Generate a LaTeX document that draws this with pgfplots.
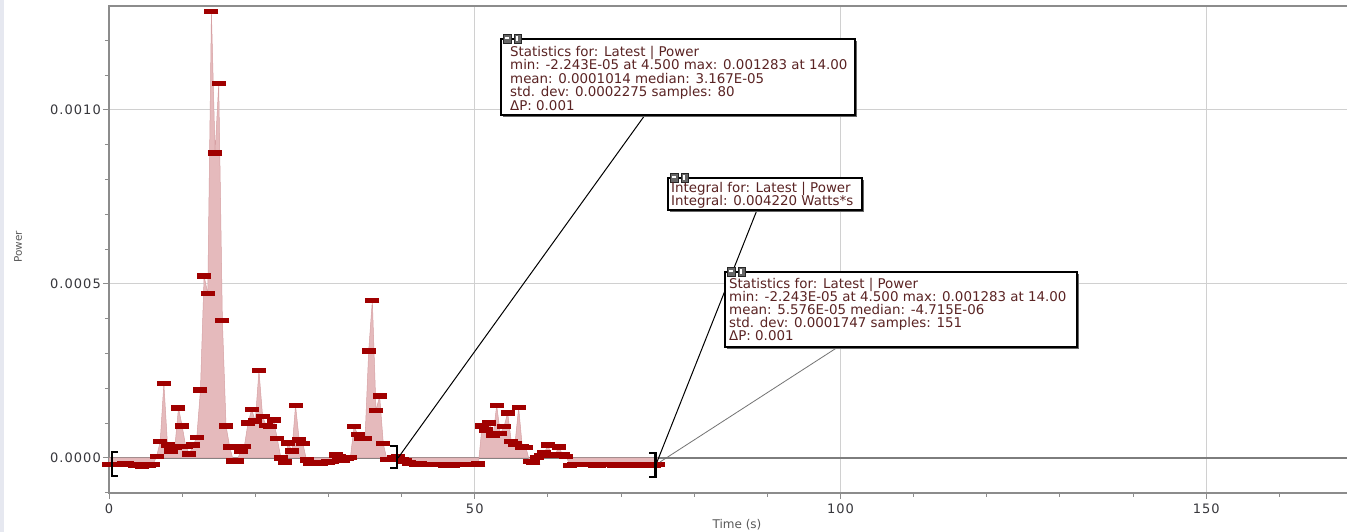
\documentclass[border=0pt]{standalone}
\usepackage{fontspec}
\setmainfont{DejaVu Sans}
\newfontfamily\tickfont[LetterSpace=8]{DejaVu Sans}
\usepackage{pgfplots}
\usepackage{pgfplotstable}
\pgfplotsset{compat=1.18}
\definecolor{fillpink}{RGB}{229,186,188}
\definecolor{edgepink}{RGB}{214,160,163}
\definecolor{mkred}{RGB}{160,0,0}
\definecolor{gridgray}{RGB}{208,208,208}
\definecolor{axisgray}{RGB}{140,140,140}
\definecolor{zerogray}{RGB}{125,125,125}
\definecolor{annotxt}{RGB}{90,35,35}
\definecolor{ticktxt}{RGB}{55,55,60}
\definecolor{stripcol}{RGB}{230,232,240}

\pgfplotstableread{
t p
0 -0.000018
0.5 -0.000019
1 -0.000019
1.5 -0.000018
2 -0.000017
2.5 -0.000017
3 -0.000018
3.5 -0.000020
4 -0.000021
4.5 -0.00002243
5 -0.000021
5.5 -0.000020
6 -0.000019
6.5 0.000004
7 0.000047
7.5 0.000214
8 0.000037
8.5 0.000020
9 0.00003134
9.5 0.000144
10 0.000092
10.5 0.0000325
11 0.000012
11.5 0.000037
12 0.000059
12.5 0.000195
13 0.000523
13.5 0.000473
14 0.001283
14.5 0.000877
15 0.001076
15.5 0.0003956
16 0.000092
16.5 0.000032
17 -0.000008
17.5 -0.000008
18 0.000020
18.5 0.000033
19 0.000100
19.5 0.000139
20 0.000107
20.5 0.000251
21 0.000119
21.5 0.000093
22 0.000090
22.5 0.000109
23 0.000056
23.5 0.000000
24 -0.000012
24.5 0.000043
25 0.000020
25.5 0.000151
26 0.000052
26.5 0.000042
27 -0.000006
27.5 -0.000015
28 -0.000016
28.5 -0.000014
29 -0.000015
29.5 -0.000013
30 -0.000012
30.5 -0.000010
31 0.000008
31.5 0.000005
32 -0.000006
32.5 0.000000
33 0.000002
33.5 0.000090
34 0.000068
34.5 0.000056
35 0.000056
35.5 0.0003077
36 0.000453
36.5 0.000137
37 0.000178
37.5 0.000041
38 -0.000004715
38.5 -0.000005
39 0.000000
39.5 0.000003
40 -0.000005
40.5 -0.000008
41 -0.000014
41.5 -0.000016
42 -0.000017
42.5 -0.000017
43 -0.000018
43.5 -0.000018
44 -0.000019
44.5 -0.000019
45 -0.000018
45.5 -0.000019
46 -0.000020
46.5 -0.000020
47 -0.000020
47.5 -0.000019
48 -0.000018
48.5 -0.000018
49 -0.000019
49.5 -0.000019
50 -0.000018
50.5 -0.000017
51 0.000092
51.5 0.000080
52 0.000100
52.5 0.000065
53 0.000151
53.5 0.000070
54 0.000090
54.5 0.000130
55 0.000047
55.5 0.000040
56 0.000145
56.5 0.000032
57 0.000030
57.5 -0.000010
58 -0.000012
58.5 0.000002
59 0.000007
59.5 0.000014
60 0.000037
60.5 0.000007
61 0.000010
61.5 0.000032
62 0.000009
62.5 0.000005
63 -0.000021
63.5 -0.000019
64 -0.000018
64.5 -0.000018
65 -0.000019
65.5 -0.000019
66 -0.000019
66.5 -0.000020
67 -0.000020
67.5 -0.000019
68 -0.000019
68.5 -0.000019
69 -0.000020
69.5 -0.000020
70 -0.000020
70.5 -0.000020
71 -0.000020
71.5 -0.000020
72 -0.000020
72.5 -0.000020
73 -0.000020
73.5 -0.000020
74 -0.000020
74.5 -0.000020
75 -0.000019
}\powerdata

\newcommand\annofont{\fontsize{13.4}{13.5}\selectfont}
\newcommand\annobox[4]{%
  \fill[black!60] (#1+1.6,#2+1.6) rectangle (#3+1.6,#4+1.6);
  \filldraw[fill=white, draw=black, line width=1.6pt] (#1,#2) rectangle (#3,#4);
  \filldraw[fill=black!60, draw=black!85, line width=0.5pt] (#1+2,#2-5) rectangle (#1+10,#2+4);
  \fill[white] (#1+4,#2-2) rectangle (#1+8,#2+0.5);
  \filldraw[fill=black!60, draw=black!85, line width=0.5pt] (#1+13,#2-5) rectangle (#1+20,#2+4);
  \fill[white] (#1+15,#2-3) rectangle (#1+17,#2+2);
}

\begin{document}
\begin{tikzpicture}
\fill[white] (0,0) rectangle (1347pt,532pt);
\fill[stripcol] (0,0) rectangle (4pt,532pt);
\begin{axis}[
  at={(109pt,39.2pt)}, anchor=south west,
  width=1256pt, height=487.2pt, scale only axis,
  xmin=0, xmax=171.7, ymin=-0.0001, ymax=0.0013,
  xtick={0,50,100,150},
  minor xtick={10,20,30,40,60,70,80,90,110,120,130,140,160,170},
  ytick={0,0.0005,0.001},
  minor ytick={-0.0001,0.0001,0.0002,0.0003,0.0004,0.0006,0.0007,0.0008,0.0009,0.0011,0.0012},
  xtick pos=bottom, ytick pos=left,
  scaled y ticks=false,
  /pgf/number format/assume math mode=true,
  yticklabel style={/pgf/number format/.cd, fixed, fixed zerofill, precision=4, /tikz/.cd,
     font=\tickfont\fontsize{13}{13}\selectfont, text=ticktxt, anchor=east, inner sep=0pt, xshift=-2pt},
  xticklabel style={font=\tickfont\fontsize{13}{13}\selectfont, text=ticktxt, anchor=north, inner sep=0pt, yshift=-5pt},
  tick align=outside, major tick length=6pt, minor tick length=4pt,
  every tick/.style={axisgray, line width=1pt},
  grid=major, major grid style={gridgray, line width=1pt},
  axis line style={axisgray, line width=2pt},
  xlabel={Time (s)},
  xlabel style={at={(axis description cs:0.5,0)}, anchor=base, yshift=-36.2pt,
     font=\fontsize{12}{12}\selectfont, text=black!65},
]
\draw[zerogray, line width=2.2pt] (axis cs:0,0) -- (axis cs:171.7,0);
\addplot[fill=fillpink, draw=edgepink, line width=0.5pt] table[x=t, y=p] {\powerdata} \closedcycle;
\addplot[only marks, mark=-, mark size=7pt, mark options={line width=5.5pt, draw=mkred}] table[x=t, y=p] {\powerdata};
\end{axis}
\node[rotate=90, inner sep=0pt, font=\fontsize{10.5}{10.5}\selectfont, text=black!65] at (18pt,285pt) {Power};
\begin{scope}[x=1pt, y=-1pt, yshift=532pt]
  % brackets
  \draw[black, line width=2.5pt] (118,452) -- (112,452) -- (112,476) -- (118,476);
  \draw[black, line width=2.5pt] (390,446) -- (397,446) -- (397,468) -- (390,468);
  \draw[black, line width=2.5pt] (649,453) -- (655.5,453) -- (655.5,477) -- (649,477);
  % leader lines
  \draw[black, line width=1pt] (645,115) -- (398,458);
  \draw[black, line width=1pt] (757,210) -- (657,462);
  \draw[black!55, line width=0.8pt] (838,347) -- (660,462);
  % box 1
  \annobox{501}{39}{855}{115}
  \begin{scope}[every node/.style={anchor=base west, inner sep=0pt, font=\annofont, text=annotxt}]
  \node at (510,56.5) {Statistics for: Latest | Power};
  \node at (510,70) {min: -2.243E-05 at 4.500 max: 0.001283 at 14.00};
  \node at (510,83.5) {mean: 0.0001014 median: 3.167E-05};
  \node at (510,97) {std. dev: 0.0002275 samples: 80};
  \node at (510,110.5) {ΔP: 0.001};
  \end{scope}
  % box 2
  \annobox{668}{178}{862}{210}
  \begin{scope}[every node/.style={anchor=base west, inner sep=0pt, font=\annofont, text=annotxt}]
  \node at (671,192.5) {Integral for: Latest | Power};
  \node at (671,205.5) {Integral: 0.004220 Watts*s};
  \end{scope}
  % box 3
  \annobox{725}{272}{1077}{347}
  \begin{scope}[every node/.style={anchor=base west, inner sep=0pt, font=\annofont, text=annotxt}]
  \node at (729,288.5) {Statistics for: Latest | Power};
  \node at (729,301.5) {min: -2.243E-05 at 4.500 max: 0.001283 at 14.00};
  \node at (729,314.5) {mean: 5.576E-05 median: -4.715E-06};
  \node at (729,327.5) {std. dev: 0.0001747 samples: 151};
  \node at (729,340.5) {ΔP: 0.001};
  \end{scope}
\end{scope}
\pgfresetboundingbox
\useasboundingbox (0,0) rectangle (1347pt,532pt);
\end{tikzpicture}
\end{document}
